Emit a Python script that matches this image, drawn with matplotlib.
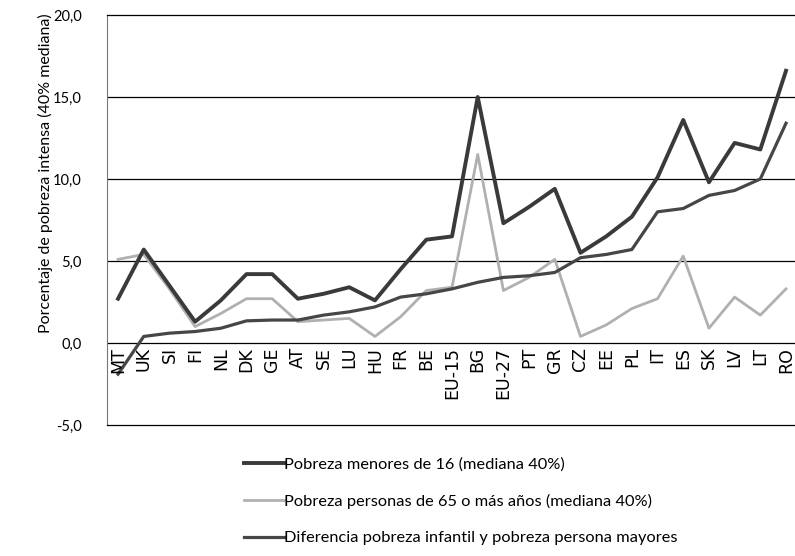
import matplotlib.pyplot as plt
from matplotlib.ticker import FuncFormatter

plt.rcParams['font.family'] = ['Lato', 'DejaVu Sans']

paises = ['MT', 'UK', 'SI', 'FI', 'NL', 'DK', 'GE', 'AT', 'SE', 'LU', 'HU', 'FR', 'BE',
          'EU-15', 'BG', 'EU-27', 'PT', 'GR', 'CZ', 'EE', 'PL', 'IT', 'ES', 'SK', 'LV',
          'LT', 'RO']

menores16 = [2.7, 5.7, 3.5, 1.3, 2.6, 4.2, 4.2, 2.7, 3.0, 3.4, 2.6, 4.5, 6.3,
             6.5, 15.0, 7.3, 8.3, 9.4, 5.5, 6.5, 7.7, 10.1, 13.6, 9.8, 12.2,
             11.8, 16.6]
mayores65 = [5.1, 5.4, 3.3, 1.0, 1.8, 2.7, 2.7, 1.3, 1.4, 1.5, 0.4, 1.6, 3.2,
             3.4, 11.5, 3.2, 4.0, 5.1, 0.4, 1.1, 2.1, 2.7, 5.3, 0.9, 2.8,
             1.7, 3.3]
diferencia = [-1.9, 0.4, 0.6, 0.7, 0.9, 1.35, 1.4, 1.4, 1.7, 1.9, 2.2, 2.8, 3.0,
              3.3, 3.7, 4.0, 4.1, 4.3, 5.2, 5.4, 5.7, 8.0, 8.2, 9.0, 9.3,
              10.0, 13.4]

x = list(range(len(paises)))

fig = plt.figure(figsize=(7.95, 5.56), dpi=100)
ax = fig.add_axes([107 / 795, 131 / 556, 1 - 107 / 795, 410 / 556])

for y in [0, 5, 10, 15]:
    ax.axhline(y, color='black', linewidth=0.9, zorder=1)

l1, = ax.plot(x, menores16, color='#3a3a3a', linewidth=2.8, zorder=3,
              label='Pobreza menores de 16 (mediana 40%)')
l2, = ax.plot(x, mayores65, color='#b0b0b0', linewidth=2.0, zorder=2,
              label='Pobreza personas de 65 o más años (mediana 40%)')
l3, = ax.plot(x, diferencia, color='#464646', linewidth=2.3, zorder=3,
              label='Diferencia pobreza infantil y pobreza persona mayores')

for i, p in enumerate(paises):
    ax.text(i, -0.25, p, rotation=90, ha='center', va='top', fontsize=12.5,
            family=['Liberation Sans Narrow', 'DejaVu Sans'])

ax.set_xlim(-0.43, 26.35)
ax.set_ylim(-5, 20)
ax.set_yticks([-5, 0, 5, 10, 15, 20])
ax.yaxis.set_major_formatter(FuncFormatter(lambda v, pos: f'{v:.1f}'.replace('.', ',')))
ax.tick_params(axis='y', length=0, pad=18, labelsize=10.5)
ax.set_xticks([])
ax.spines['right'].set_visible(False)
ax.spines['left'].set_color('#777777')
ax.spines['left'].set_linestyle((0, (1, 1)))
ax.spines['left'].set_linewidth(0.8)
ax.spines['top'].set_linewidth(0.9)
ax.spines['bottom'].set_linewidth(0.9)
ax.set_ylabel('Porcentaje de pobreza intensa (40% mediana)', fontsize=11.5)
ax.yaxis.set_label_coords(-0.079, 0.615)

fig.legend(handles=[l1, l2, l3], loc='upper left', bbox_to_anchor=(236 / 795, 1 - 449 / 556),
           frameon=False, fontsize=11.8, handlelength=2.4, handletextpad=0.05,
           labelspacing=1.35, borderpad=0)

fig.savefig('out.png', dpi=100)
